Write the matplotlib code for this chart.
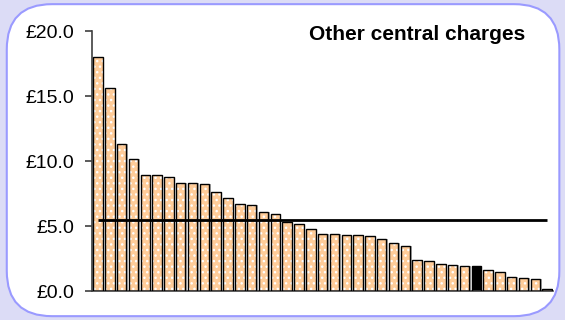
import matplotlib.pyplot as plt
import numpy as np
from matplotlib.patches import FancyBboxPatch

# values per authority, sorted descending (pounds)
charges = [18.0, 15.6, 11.35, 10.17, 8.97, 8.97, 8.8, 8.33, 8.3, 8.26,
           7.65, 7.2, 6.68, 6.65, 6.09, 5.96, 5.3, 5.2, 4.77, 4.43,
           4.43, 4.31, 4.31, 4.26, 3.98, 3.67, 3.47, 2.4, 2.32, 2.09,
           1.99, 1.96, 1.94, 1.61, 1.48, 1.07, 1.02, 0.92, 0.2]
highlight = 32
average = 5.5
yticks = [0, 5, 10, 15, 20]
ytick_labels = ["£0.0", "£5.0", "£10.0", "£15.0", "£20.0"]
title = "Other central charges"

plt.rcParams["font.family"] = ["Liberation Sans", "DejaVu Sans"]

fig = plt.figure(figsize=(5.65, 3.2), dpi=100)
fig.patch.set_facecolor("#dcdcf6")

# rounded white panel
panel = FancyBboxPatch((0.012, 0.012), 0.978, 0.975,
                       boxstyle="round,pad=0,rounding_size=0.08",
                       transform=fig.transFigure, facecolor="white",
                       edgecolor="#9a9aff", linewidth=1.5, zorder=-5,
                       mutation_aspect=565 / 320)
fig.patches.append(panel)

ax = fig.add_axes([0.163, 0.09, 0.816, 0.8125])
ax.set_facecolor("none")
ax.set_zorder(2)

x = np.arange(len(charges))
vals = np.array(charges)
normal = x != highlight

# shadow
ax.bar(x + 0.12, vals, width=0.8, color="#b0b0b0", linewidth=0, zorder=1)
# dotted fill
ax.bar(x[normal], vals[normal], width=0.8, color="#ffcc99", edgecolor="white",
       hatch="...", linewidth=0, zorder=2)
ax.bar(x[~normal], vals[~normal], width=0.8, color="black", linewidth=0,
       zorder=2)
# outline
ax.bar(x, vals, width=0.8, fill=False, edgecolor="black", linewidth=1.0,
       zorder=3)

ax.hlines(average, 0, len(charges) - 1, color="black", linewidth=2, zorder=4)

ax.set_xlim(-0.5, len(charges) - 0.5)
ax.set_ylim(0, 20)
ax.set_yticks(yticks)
ax.set_yticklabels(ytick_labels, fontsize=14)
ax.set_xticks([])
ax.tick_params(axis="y", direction="out", length=5, width=1.2, pad=8,
               color="#404040")
for s in ["top", "right"]:
    ax.spines[s].set_visible(False)
ax.spines["left"].set_color("#404040")
ax.spines["left"].set_linewidth(1.2)
ax.spines["bottom"].set_color("#404040")
ax.spines["bottom"].set_linewidth(1.2)

fig.text(0.738, 0.893, title, fontsize=15, fontweight="bold", ha="center",
         va="center")

fig.savefig("out.png", dpi=100, facecolor=fig.get_facecolor())
